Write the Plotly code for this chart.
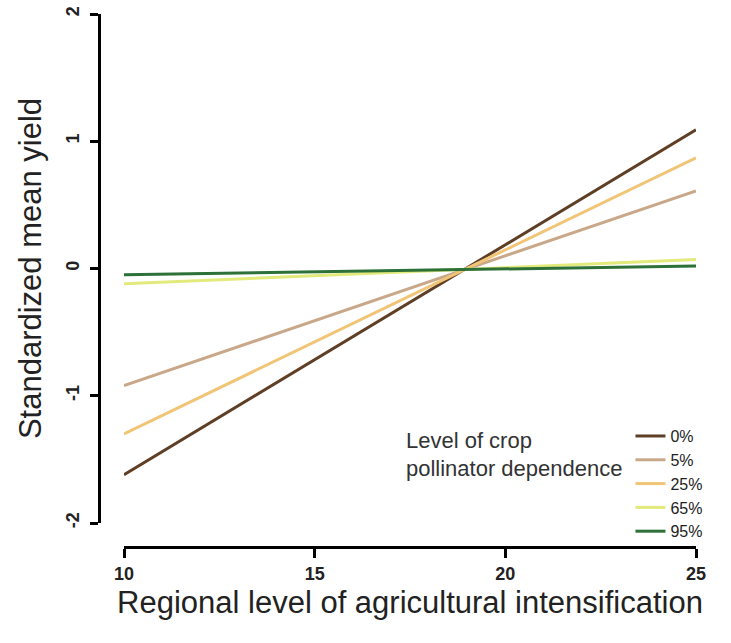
import plotly.graph_objects as go

intensification = [10, 25]
levels = ["0%", "5%", "25%", "65%", "95%"]
yield_0 = [-1.62, 1.09]
yield_5 = [-0.92, 0.61]
yield_25 = [-1.30, 0.87]
yield_65 = [-0.12, 0.07]
yield_95 = [-0.05, 0.02]
series = [yield_0, yield_5, yield_25, yield_65, yield_95]
colors = ["#5e3f25", "#c9a88a", "#f1c576", "#e2ea7c", "#2d7038"]

x_ticks = [10, 15, 20, 25]
y_ticks = [-2, -1, 0, 1, 2]

fig = go.Figure()
for name, ys, c in zip(levels, series, colors):
    fig.add_trace(go.Scatter(x=intensification, y=ys, mode="lines", name=name,
                             line=dict(color=c, width=3)))

font = "Liberation Sans, Arial, sans-serif"
fig.update_layout(
    width=731, height=643,
    paper_bgcolor="white", plot_bgcolor="white",
    margin=dict(l=99, r=35, t=14, b=96),
    font=dict(family=font, color="#222"),
    xaxis=dict(domain=[0.0419, 1], range=[10, 25], anchor="free", position=0,
               automargin=False,
               showline=True, linecolor="black", linewidth=3,
               ticks="outside", ticklen=9, tickwidth=3, tickcolor="black",
               tickvals=x_ticks, ticktext=[f"<b>{v}</b>" for v in x_ticks],
               tickfont=dict(size=18, color="#222"), showgrid=False, zeroline=False,
               title=dict(text="Regional level of agricultural intensification",
                          font=dict(size=31, color="#222"), standoff=8)),
    yaxis=dict(domain=[0.045, 1], range=[-2, 2], anchor="free", position=0,
               automargin=False,
               showline=True, linecolor="black", linewidth=3,
               ticks="outside", ticklen=8, tickwidth=3, tickcolor="black",
               tickvals=y_ticks, ticktext=[f"<b>{v}</b>" for v in y_ticks],
               tickangle=-90, ticklabelstandoff=4, ticklabeloverflow="allow",
               tickfont=dict(size=18, color="#222"), showgrid=False, zeroline=False,
               title=dict(text="Standardized mean yield",
                          font=dict(size=31, color="#222"), standoff=10)),
    legend=dict(x=1.02, y=0.24, xanchor="right", yanchor="top",
                bgcolor="rgba(255,255,255,0)", tracegroupgap=0,
                font=dict(size=16, color="#222"), itemwidth=30,
                title=dict(text="Level of crop<br>pollinator dependence", side="left",
                           font=dict(size=22, color="#333"))),
)
fig.write_html("out.html", post_script="document.body.style.margin='0px';",
               config={"displayModeBar": False})
